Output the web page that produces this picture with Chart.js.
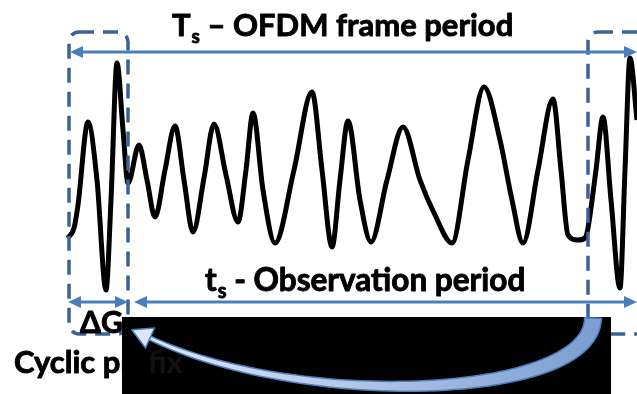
<!DOCTYPE html>
<html>
<head>
<meta charset="utf-8">
<script src="https://cdn.jsdelivr.net/npm/chart.js@4/dist/chart.umd.min.js"></script>
<style>
  html, body { margin: 0; padding: 0; background: #fff; }
  #wrap { width: 637px; height: 394px; }
</style>
</head>
<body>
<div id="wrap"><canvas id="ofdmChart" width="637" height="394"></canvas></div>
<script>
// OFDM symbol samples (time units, amplitude units)
const sampleTimes = [
  68, 74, 78, 88, 97, 106, 111, 117, 123, 128,
  139, 147, 155, 165, 175, 184, 193, 204, 214, 226,
  238, 246, 253, 263, 275, 294, 312, 322, 332, 340,
  348, 360, 371, 387, 403, 420, 435, 452, 468, 484,
  500, 512, 523, 538, 553, 561, 568, 578, 585, 588,
  596, 603, 611, 620, 625, 630, 637
];
const sampleAmplitudes = [
  -58, -48, -25, 58, 0, -110, -20, 117, 50, -3,
  35, 0, -37, 10, 54, 0, -52, 2, 56, 5,
  -42, 10, 67, -10, -63, 10, 88, 10, -67, 0,
  59, -20, -62, 0, 53, 0, -35, -63, 20, 93,
  40, -20, -63, 10, 81, 10, -55, -60, -58, -48,
  10, 63, -20, -108, 10, 122, 60
];

// time marks of the frame
const guardStart = 69;
const guardEnd = 128;
const observationStart = 134;
const nextGuardStart = 588;
const frameEnd = 637;

// labels
const frameLabel = ['T', 's', ' \u2013 OFDM frame period'];
const observationLabel = ['t', 's', ' - Observation period'];
const guardLabel = '\u0394G';
const prefixLabel = 'Cyclic prefix';

const BLUE = '#4a7ebb';
const DASH_BLUE = '#3b6196';
const FONT = 'Lato, "Open Sans", sans-serif';

// draws boxes, arrows and texts on top of the waveform, positioned through the scales
const diagramPlugin = {
  id: 'ofdmDiagram',
  afterDraw(chart) {
    const ctx = chart.ctx;
    const px = v => chart.scales.x.getPixelForValue(v);
    const py = v => chart.scales.y.getPixelForValue(v);

    ctx.save();

    // dashed guard boxes
    ctx.strokeStyle = DASH_BLUE;
    ctx.lineWidth = 3.5;
    ctx.setLineDash([15, 9]);
    const boxTop = py(148), boxBottom = py(-154);
    ctx.beginPath();
    ctx.roundRect(px(guardStart), boxTop, px(guardEnd) - px(guardStart), boxBottom - boxTop, 10);
    ctx.stroke();
    ctx.beginPath();
    ctx.roundRect(px(nextGuardStart), boxTop, px(guardEnd) - px(guardStart) + 10, boxBottom - boxTop, 10);
    ctx.stroke();
    ctx.setLineDash([]);

    // straight arrows
    const arrow = (x1, x2, y) => {
      const a = px(x1), b = px(x2), yy = py(y);
      ctx.strokeStyle = BLUE;
      ctx.fillStyle = BLUE;
      ctx.lineWidth = 3;
      ctx.beginPath();
      ctx.moveTo(a + 6, yy);
      ctx.lineTo(b - 6, yy);
      ctx.stroke();
      ctx.beginPath();
      ctx.moveTo(a, yy); ctx.lineTo(a + 13, yy - 6); ctx.lineTo(a + 13, yy + 6); ctx.closePath();
      ctx.moveTo(b, yy); ctx.lineTo(b - 13, yy - 6); ctx.lineTo(b - 13, yy + 6); ctx.closePath();
      ctx.fill();
    };
    arrow(guardStart + 1, frameEnd, 128);
    arrow(guardStart - 1, guardEnd, -122);
    arrow(observationStart, frameEnd, -122);

    // bold text, slightly thickened to look like the original font
    const boldText = (s, x, y) => {
      ctx.fillText(s, x, y);
      ctx.strokeText(s, x, y);
    };
    ctx.fillStyle = '#000';
    ctx.strokeStyle = '#000';
    ctx.lineWidth = 0.9;
    ctx.lineJoin = 'round';
    ctx.textBaseline = 'alphabetic';

    // labels with subscript
    const subLabel = (parts, x, y, size) => {
      let cx = px(x);
      const yy = py(y);
      ctx.font = `bold ${size}px ${FONT}`;
      boldText(parts[0], cx, yy);
      cx += ctx.measureText(parts[0]).width + 1;
      ctx.font = `bold ${Math.round(size * 0.62)}px ${FONT}`;
      boldText(parts[1], cx, yy + size * 0.22);
      cx += ctx.measureText(parts[1]).width;
      ctx.font = `bold ${size}px ${FONT}`;
      boldText(parts[2], cx, yy);
    };
    subLabel(frameLabel, 172, 144, 31);
    subLabel(observationLabel, 205, -111, 31.5);

    ctx.font = `bold 30px ${FONT}`;
    boldText(guardLabel, px(80), py(-153));
    ctx.font = `bold 31px ${FONT}`;
    boldText(prefixLabel, px(14), py(-193));

    // black box covering the lower part
    ctx.fillStyle = '#000';
    ctx.fillRect(px(122), py(-137), px(611) - px(122), py(-214) - py(-137));

    // faint trace of the covered label
    ctx.save();
    ctx.beginPath();
    ctx.rect(px(150), py(-137), 36, 60);
    ctx.clip();
    ctx.fillStyle = 'rgba(255,255,255,0.07)';
    ctx.fillText(prefixLabel, px(14), py(-193));
    ctx.restore();

    // curved arrow back to the guard interval (cubic centre line, tapered)
    const P = [[593, -138], [592, -220], [300, -230], [150, -158]].map(p => [px(p[0]), py(p[1])]);
    const bez = t => {
      const u = 1 - t;
      const a = u * u * u, b = 3 * u * u * t, c = 3 * u * t * t, d = t * t * t;
      return [a * P[0][0] + b * P[1][0] + c * P[2][0] + d * P[3][0],
              a * P[0][1] + b * P[1][1] + c * P[2][1] + d * P[3][1]];
    };
    const n = 60, outer = [], inner = [];
    for (let i = 0; i <= n; i++) {
      const t = i / n;
      const p0 = bez(Math.max(0, t - 0.005)), p1 = bez(Math.min(1, t + 0.005));
      const dx = p1[0] - p0[0], dy = p1[1] - p0[1], len = Math.hypot(dx, dy);
      const nx = -dy / len, ny = dx / len;
      const w = (17 * (1 - t) + 4 * t) / 2;
      const c = bez(t);
      outer.push([c[0] + nx * w, c[1] + ny * w]);
      inner.push([c[0] - nx * w, c[1] - ny * w]);
    }
    const grad = ctx.createLinearGradient(P[3][0], 0, P[0][0], 0);
    grad.addColorStop(0, '#dfe8f7');
    grad.addColorStop(1, '#7d9ed2');
    ctx.beginPath();
    outer.forEach((p, i) => i ? ctx.lineTo(p[0], p[1]) : ctx.moveTo(p[0], p[1]));
    inner.reverse().forEach(p => ctx.lineTo(p[0], p[1]));
    ctx.closePath();
    ctx.fillStyle = grad;
    ctx.fill();
    ctx.strokeStyle = BLUE;
    ctx.lineWidth = 1.5;
    ctx.stroke();

    // arrow head
    const end = P[3], prev = bez(0.97);
    const ddx = end[0] - prev[0], ddy = end[1] - prev[1], dl = Math.hypot(ddx, ddy);
    const ux = ddx / dl, uy = ddy / dl;
    ctx.beginPath();
    ctx.moveTo(end[0] + ux * 20, end[1] + uy * 20);
    ctx.lineTo(end[0] - uy * 11, end[1] + ux * 11);
    ctx.lineTo(end[0] + uy * 11, end[1] - ux * 11);
    ctx.closePath();
    ctx.fillStyle = '#dde7f7';
    ctx.fill();
    ctx.stroke();

    ctx.restore();
  }
};

new Chart(document.getElementById('ofdmChart'), {
  type: 'line',
  data: {
    datasets: [{
      data: sampleTimes.map((t, i) => ({ x: t, y: sampleAmplitudes[i] })),
      borderColor: '#000',
      borderWidth: 5,
      pointRadius: 0,
      cubicInterpolationMode: 'monotone',
      fill: false
    }]
  },
  options: {
    responsive: false,
    animation: false,
    devicePixelRatio: 1,
    layout: { padding: 0 },
    plugins: { legend: { display: false }, tooltip: { enabled: false } },
    scales: {
      x: { type: 'linear', min: 0, max: 637, display: false },
      y: { type: 'linear', min: -214, max: 180, display: false }
    }
  },
  plugins: [diagramPlugin]
});
</script>
</body>
</html>
